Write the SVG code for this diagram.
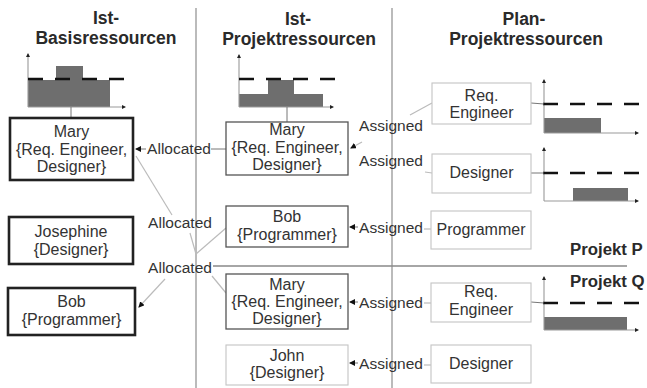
<svg xmlns="http://www.w3.org/2000/svg" width="647" height="388" viewBox="0 0 647 388">
<style>
.title{font-family:"Liberation Sans",Arial,sans-serif;font-weight:bold;font-size:17.5px;fill:#2a2a2a;text-anchor:middle}
.nt{font-family:"Liberation Sans",Arial,sans-serif;font-size:16px;fill:#333;text-anchor:middle}
.lbl{font-family:"Liberation Sans",Arial,sans-serif;font-size:15.5px;fill:#333;text-anchor:middle}
.proj{font-family:"Liberation Sans",Arial,sans-serif;font-weight:bold;font-size:16.8px;fill:#2a2a2a}
.thick{fill:#fff;stroke:#222;stroke-width:2.6}
.mid{fill:#fff;stroke:#555;stroke-width:1.3}
.light{fill:#fff;stroke:#c4c4c4;stroke-width:1.1}
.div{stroke:#aaa;stroke-width:1.6;fill:none}
.con{stroke:#bbb;stroke-width:1.2;fill:none}
.con2{stroke:#777;stroke-width:1;fill:none}
.axis{stroke:#999;stroke-width:1.1;fill:none}
.bar{fill:#6e6e6e}
.dash{stroke:#111;stroke-width:2.4;stroke-dasharray:15 12;fill:none}
</style>
<defs>
<marker id="ah" viewBox="0 0 6 6" refX="5" refY="3" markerWidth="6" markerHeight="6" orient="auto" markerUnits="userSpaceOnUse">
<path d="M0,0 L6,3 L0,6 z" fill="#111"/>
</marker>
<marker id="axh" viewBox="0 0 4 4" refX="3" refY="2" markerWidth="4" markerHeight="4" orient="auto" markerUnits="userSpaceOnUse">
<path d="M0,0 L4,2 L0,4 z" fill="#222"/>
</marker>
</defs>

<!-- dividers -->
<g id="dividers">
<line class="div" x1="196" y1="8" x2="196" y2="388"/>
<line class="div" x1="392" y1="8" x2="392" y2="388"/>
<line x1="213" y1="266" x2="627" y2="266" stroke="#888" stroke-width="1.4"/>
</g>

<!-- titles -->
<g id="titles">
<text class="title" x="106" y="24">Ist-</text>
<text class="title" x="106" y="44">Basisressourcen</text>
<text class="title" x="298" y="25">Ist-</text>
<text class="title" x="299" y="45">Projektressourcen</text>
<text class="title" x="524" y="25">Plan-</text>
<text class="title" x="526" y="45">Projektressourcen</text>
<text class="proj" x="570" y="255">Projekt P</text>
<text class="proj" x="570" y="287">Projekt Q</text>
</g>

<!-- charts -->
<g id="chart-basis">
<path class="bar" d="M28,80 H56 V66 H83 V80 H110 V107 H28 Z"/>
<line class="axis" x1="28" y1="107" x2="28" y2="54" marker-end="url(#axh)"/>
<line class="axis" x1="28" y1="107" x2="125" y2="107" marker-end="url(#axh)"/>
<line class="dash" x1="28" y1="79" x2="127" y2="79" stroke-dasharray="15 13"/>
<line class="con2" x1="71" y1="107" x2="71" y2="118"/>
</g>
<g id="chart-projekt">
<path class="bar" d="M239,94 H268 V80 H294 V94 H323 V107 H239 Z"/>
<line class="axis" x1="239" y1="107" x2="239" y2="55" marker-end="url(#axh)"/>
<line class="axis" x1="239" y1="107" x2="333" y2="107" marker-end="url(#axh)"/>
<line class="dash" x1="239" y1="79" x2="338" y2="79" stroke-dasharray="14 14"/>
<line class="con2" x1="287" y1="107" x2="287" y2="122"/>
</g>
<g id="chart-plan-req-p">
<rect class="bar" x="544" y="118" width="57" height="15"/>
<line class="axis" x1="544" y1="133" x2="544" y2="80" marker-end="url(#axh)"/>
<line class="axis" x1="544" y1="133" x2="638" y2="133" marker-end="url(#axh)"/>
<line class="dash" x1="543" y1="104" x2="647" y2="104" stroke-dasharray="19 9"/>
<line class="con2" x1="531" y1="103" x2="544" y2="104"/>
</g>
<g id="chart-plan-des-p">
<rect class="bar" x="573" y="188" width="55" height="13"/>
<line class="axis" x1="544" y1="201" x2="544" y2="148" marker-end="url(#axh)"/>
<line class="axis" x1="544" y1="201" x2="638" y2="201" marker-end="url(#axh)"/>
<line class="dash" x1="543" y1="173" x2="647" y2="173" stroke-dasharray="19 9"/>
<line class="con2" x1="531" y1="173" x2="544" y2="173"/>
</g>
<g id="chart-plan-req-q">
<rect class="bar" x="544" y="317" width="83" height="13"/>
<line class="axis" x1="544" y1="330" x2="544" y2="277" marker-end="url(#axh)"/>
<line class="axis" x1="544" y1="330" x2="638" y2="330" marker-end="url(#axh)"/>
<line class="dash" x1="543" y1="303" x2="647" y2="303" stroke-dasharray="19 9"/>
<line class="con2" x1="531" y1="302" x2="544" y2="303"/>
</g>

<!-- connectors -->
<g id="connectors">
<line class="con2" x1="146" y1="149" x2="136" y2="149" marker-end="url(#ah)"/>
<line class="con2" x1="211" y1="149" x2="226" y2="149"/>
<line class="con" x1="136" y1="156" x2="172" y2="215"/>
<line class="con" x1="190" y1="233" x2="196" y2="254"/>
<line class="con" x1="226" y1="228" x2="196" y2="254"/>
<line class="con" x1="196" y1="254" x2="196" y2="259"/>
<line class="con" x1="165" y1="279" x2="139" y2="307" marker-end="url(#ah)"/>
<line class="con" x1="212" y1="276" x2="226" y2="293"/>
<line class="con" x1="362" y1="142" x2="351" y2="148" marker-end="url(#ah)"/>
<line class="con" x1="410" y1="115" x2="432" y2="103"/>
<line class="con" x1="425" y1="172" x2="432" y2="173"/>
<line class="con2" x1="358" y1="227" x2="350" y2="227" marker-end="url(#ah)"/>
<line class="con" x1="424" y1="229" x2="431" y2="229"/>
<line class="con2" x1="358" y1="302" x2="350" y2="302" marker-end="url(#ah)"/>
<line class="con" x1="424" y1="303" x2="431" y2="303"/>
<line class="con2" x1="358" y1="363" x2="350" y2="363" marker-end="url(#ah)"/>
<line class="con" x1="424" y1="365" x2="431" y2="365"/>
<text class="lbl" x="179" y="154">Allocated</text>
<text class="lbl" x="180" y="228">Allocated</text>
<text class="lbl" x="180" y="273">Allocated</text>
<text class="lbl" x="391" y="131">Assigned</text>
<text class="lbl" x="391" y="166">Assigned</text>
<text class="lbl" x="391" y="233">Assigned</text>
<text class="lbl" x="391" y="308">Assigned</text>
<text class="lbl" x="391" y="369">Assigned</text>
</g>

<!-- column 1 -->
<g id="basis-mary">
<rect class="thick" x="10" y="118" width="123" height="62"/>
<text class="nt" x="71.5" y="137">Mary</text>
<text class="nt" x="71.5" y="154.5">{Req. Engineer,</text>
<text class="nt" x="71.5" y="172">Designer}</text>
</g>
<g id="basis-josephine">
<rect class="thick" x="9" y="217" width="124" height="47"/>
<text class="nt" x="71" y="237">Josephine</text>
<text class="nt" x="71" y="255">{Designer}</text>
</g>
<g id="basis-bob">
<rect class="thick" x="8" y="288" width="127" height="47"/>
<text class="nt" x="71.5" y="307">Bob</text>
<text class="nt" x="71.5" y="325">{Programmer}</text>
</g>

<!-- column 2 -->
<g id="ist-mary-p">
<rect class="mid" x="226" y="122" width="122" height="53"/>
<text class="nt" x="287" y="135">Mary</text>
<text class="nt" x="287" y="153">{Req. Engineer,</text>
<text class="nt" x="287" y="170">Designer}</text>
</g>
<g id="ist-bob-p">
<rect class="mid" x="226" y="206" width="122" height="41"/>
<text class="nt" x="287" y="222">Bob</text>
<text class="nt" x="287" y="240">{Programmer}</text>
</g>
<g id="ist-mary-q">
<rect class="mid" x="226" y="274" width="122" height="55"/>
<text class="nt" x="287" y="290">Mary</text>
<text class="nt" x="287" y="307">{Req. Engineer,</text>
<text class="nt" x="287" y="324">Designer}</text>
</g>
<g id="ist-john-q">
<rect class="light" x="226" y="345" width="122" height="40"/>
<text class="nt" x="287" y="361">John</text>
<text class="nt" x="287" y="378">{Designer}</text>
</g>

<!-- column 3 -->
<g id="plan-req-p">
<rect class="light" x="432" y="83" width="99" height="41"/>
<text class="nt" x="481.5" y="101">Req.</text>
<text class="nt" x="481.5" y="118">Engineer</text>
</g>
<g id="plan-des-p">
<rect class="light" x="432" y="154" width="99" height="39"/>
<text class="nt" x="481.5" y="178">Designer</text>
</g>
<g id="plan-prog-p">
<rect class="light" x="431" y="211" width="100" height="38"/>
<text class="nt" x="481" y="235">Programmer</text>
</g>
<g id="plan-req-q">
<rect class="light" x="431" y="283" width="100" height="39"/>
<text class="nt" x="481" y="297">Req.</text>
<text class="nt" x="481" y="315">Engineer</text>
</g>
<g id="plan-des-q">
<rect class="light" x="431" y="345" width="100" height="38"/>
<text class="nt" x="481" y="369">Designer</text>
</g>
</svg>
